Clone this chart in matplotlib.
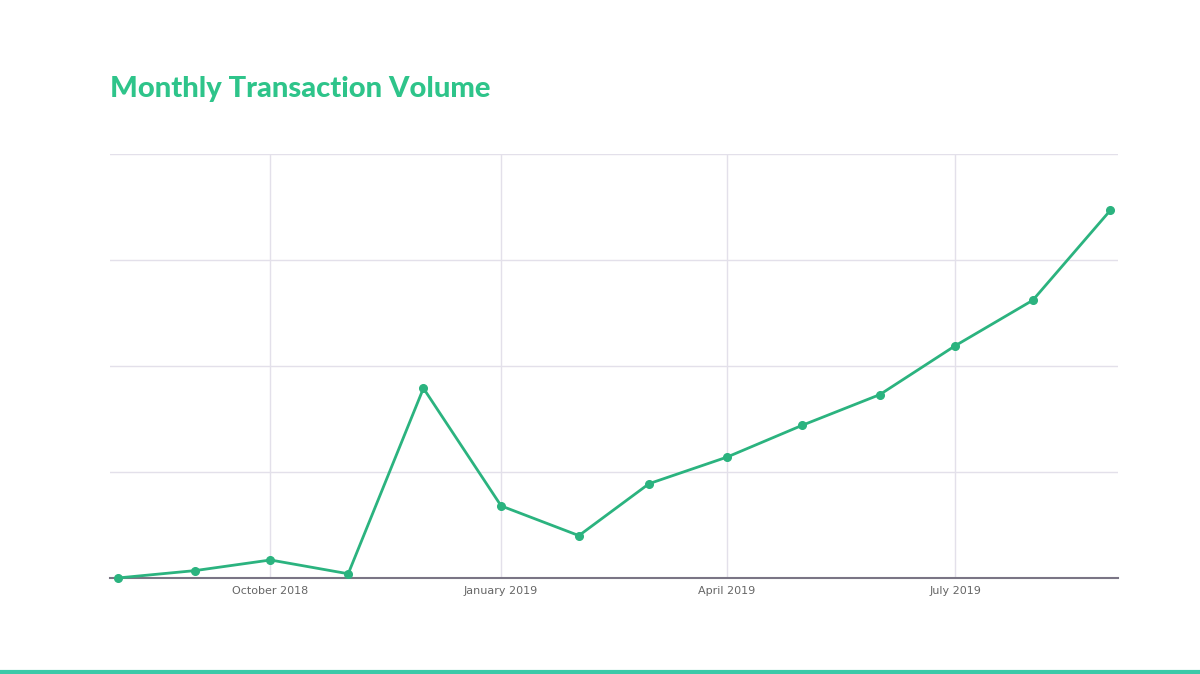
import matplotlib.pyplot as plt
import matplotlib.dates as mdates
import pandas as pd

months = pd.date_range("2018-08-01", "2019-09-01", freq="MS")
volume = [0.0, 0.07, 0.17, 0.04, 1.79, 0.68, 0.40, 0.89, 1.14, 1.44, 1.73, 2.19, 2.62, 3.47]
tick_dates = pd.to_datetime(["2018-10-01", "2019-01-01", "2019-04-01", "2019-07-01"])
tick_labels = ["October 2018", "January 2019", "April 2019", "July 2019"]

green = "#2bb37f"
fig = plt.figure(figsize=(12, 6.74), dpi=100)
ax = fig.add_axes([110 / 1200, 1 - 578 / 674, 1008 / 1200, 424 / 674])

ax.plot(months, volume, color=green, lw=2, marker="o", ms=5.5, clip_on=False, zorder=3)
ax.set_xlim(pd.Timestamp("2018-07-29"), pd.Timestamp("2019-09-04"))
ax.set_ylim(0, 4)
ax.set_yticks([0, 1, 2, 3, 4])
ax.set_yticklabels([])
ax.set_xticks(tick_dates)
ax.set_xticklabels(tick_labels, fontsize=8, color="#666666")
ax.tick_params(length=0, pad=6)
ax.grid(True, color="#e3e0ea", lw=1)
for s in ["top", "right", "left"]:
    ax.spines[s].set_visible(False)
ax.spines["bottom"].set_color("#7a7585")
ax.spines["bottom"].set_linewidth(1.5)

fig.text(110 / 1200, 1 - 89 / 674, "Monthly Transaction Volume", color="#2ec48a",
         fontsize=21, fontweight="black", va="center", family="Lato")
fig.add_artist(plt.Line2D([0, 1], [0.003, 0.003], color="#3cc9a8", lw=3))

fig.savefig("out.png", dpi=100)
